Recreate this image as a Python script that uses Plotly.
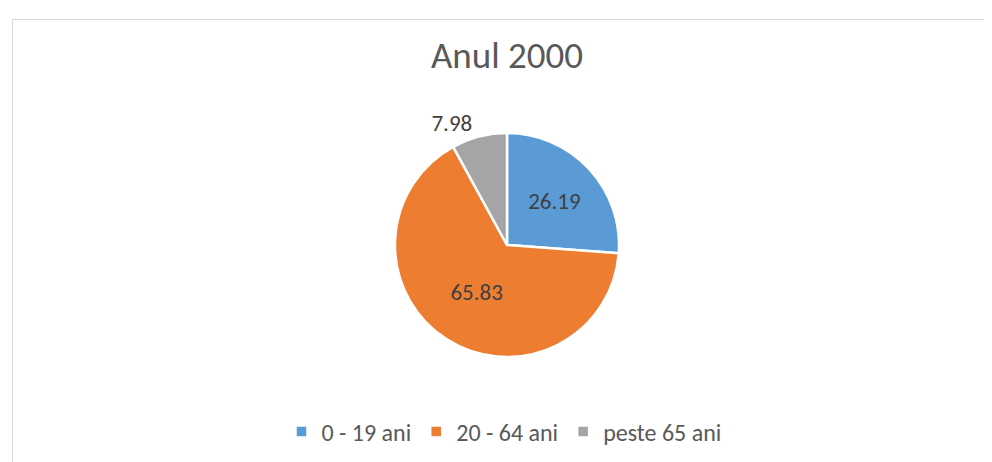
import plotly.graph_objects as go

categories = ["0 - 19 ani", "20 - 64 ani", "peste 65 ani"]
values = [26.19, 65.83, 7.98]
label_text = ["26.19", "65.83", "7.98"]
colors = ["#5B9BD5", "#ED7D31", "#A5A5A5"]
title_text = "Anul 2000"

W, H = 992, 462
cx, cy, r = 499, 237, 112
FONT = "Carlito, Calibri, Lato, sans-serif"

fig = go.Figure(go.Pie(
    labels=categories,
    values=values,
    text=label_text,
    textinfo="text",
    textposition=["inside", "inside", "outside"],
    insidetextorientation="horizontal",
    sort=False,
    direction="clockwise",
    rotation=0,
    marker=dict(colors=colors, line=dict(color="white", width=2.5)),
    textfont=dict(family=FONT, size=23, color="#404040"),
    outsidetextfont=dict(family=FONT, size=23, color="#404040"),
    insidetextfont=dict(family=FONT, size=23, color="#404040"),
    domain=dict(x=[(cx - r) / W, (cx + r) / W], y=[(H - cy - r) / H, (H - cy + r) / H]),
    hoverinfo="label+value",
))

fig.update_layout(
    width=W, height=H,
    margin=dict(l=0, r=0, t=0, b=0, autoexpand=False),
    paper_bgcolor="white",
    plot_bgcolor="white",
    title=dict(text=title_text, x=499 / W, xanchor="center", y=1 - 47 / H, yanchor="middle",
               font=dict(family=FONT, size=37, color="#595959")),
    showlegend=True,
    legend=dict(orientation="h", x=0.5, xanchor="center", y=38 / H, yanchor="middle",
                font=dict(family=FONT, size=24, color="#595959"),
                itemwidth=30, traceorder="normal"),
    shapes=[dict(type="rect", xref="paper", yref="paper",
                 x0=4.5 / W, x1=1.05, y0=-0.05, y1=1 - 11.5 / H,
                 line=dict(color="#D9D9D9", width=1), fillcolor="rgba(0,0,0,0)", layer="below")],
)

fig.write_html("out.html")
